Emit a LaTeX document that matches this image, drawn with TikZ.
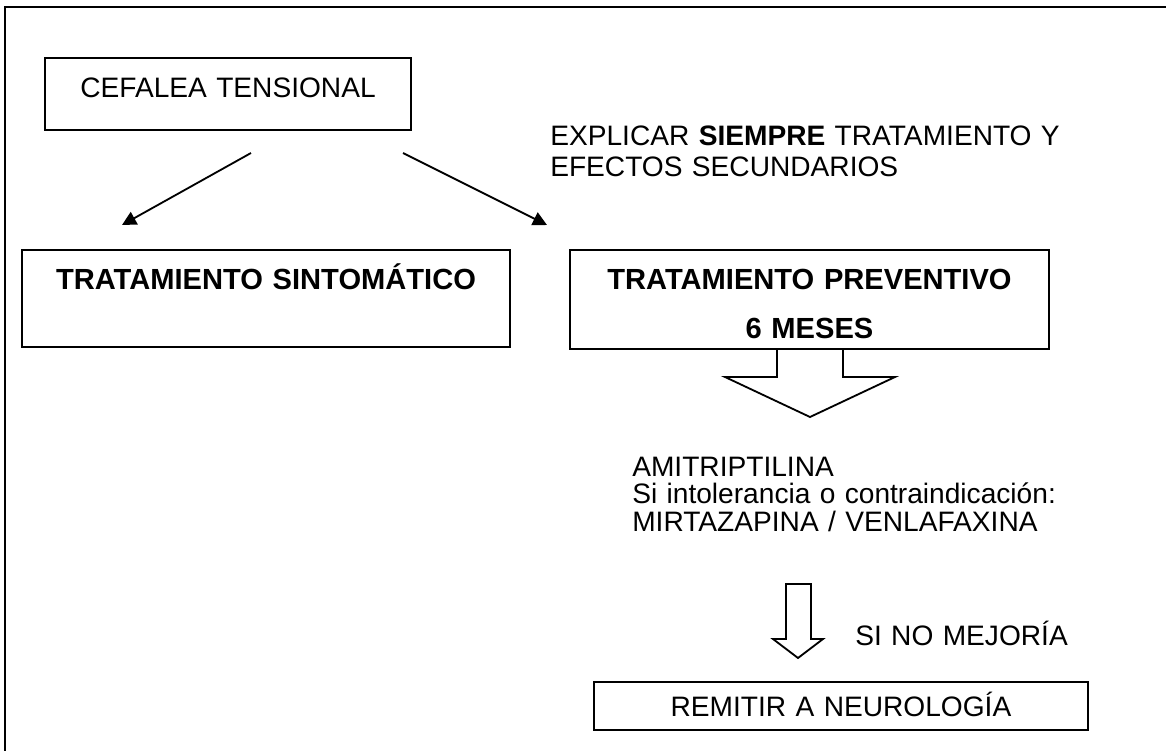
\documentclass[tikz,border=0pt]{standalone}
\usepackage{fontspec}
\setmainfont{Liberation Sans}
\usetikzlibrary{arrows.meta}

\tikzset{
  caja/.style={draw, line width=1.3pt, inner sep=0pt, align=center, anchor=north},
  negrita/.style={font=\fontsize{20.7}{23}\selectfont\bfseries},
  texto/.style={inner sep=0pt, align=left, text width=14cm, anchor=base west},
  flecha/.style={line width=1.3pt, -{Triangle[length=10pt,width=10pt]}},
  bloque/.style={draw, line width=1.3pt, line join=miter}
}

\begin{document}
\begin{tikzpicture}[x=0.025cm, y=-0.025cm, font=\fontsize{20}{23}\selectfont]

    \useasboundingbox (0,0) rectangle (1166,751);
    \draw [line width=1.5pt] (1166,7) -- (5,7) -- (5,751);

    \node [caja, text width=9.15cm, text height=1cm, text depth=0.8cm] (cef) at (228,57) {CEFALEA TENSIONAL};
    \node [caja, negrita, text width=12.2cm, text height=1cm, text depth=1.425cm] (sint) at (266,249) {TRATAMIENTO SINTOMÁTICO};
    \node [caja, negrita, text width=11.975cm, text height=1cm, text depth=1.475cm] (prev) at (809.5,249) {TRATAMIENTO PREVENTIVO\\[11.8pt]6 MESES};
    \node [caja, text width=12.35cm, text height=0.875cm, text depth=0.325cm] (rem) at (841,681) {REMITIR A NEUROLOGÍA};

    \node [texto, font=\fontsize{20}{22.7}\selectfont] (expl) at (550,145) {EXPLICAR \textbf{SIEMPRE} TRATAMIENTO Y\\EFECTOS SECUNDARIOS};
    \node [texto, font=\fontsize{20}{19.9}\selectfont] (amit) at (632,476) {AMITRIPTILINA\\Si intolerancia o contraindicación:\\MIRTAZAPINA / VENLAFAXINA};
    \node [texto] (mej) at (855,645) {SI NO MEJORÍA};

    \coordinate (a) at (251,153);
    \coordinate (b) at (122,225);
    \coordinate (c) at (403,153);
    \coordinate (d) at (547,225);

    \draw [flecha] (a) -- (b);
    \draw [flecha] (c) -- (d);

    \draw [bloque] (777,348) -- (777,377) -- (725,377) -- (810,417) -- (895,377) -- (843,377) -- (843,348);
    \draw [bloque] (786,584) -- (811,584) -- (811,639) -- (823,639) -- (798,658) -- (773,639) -- (786,639) -- cycle;

\end{tikzpicture}
\end{document}
